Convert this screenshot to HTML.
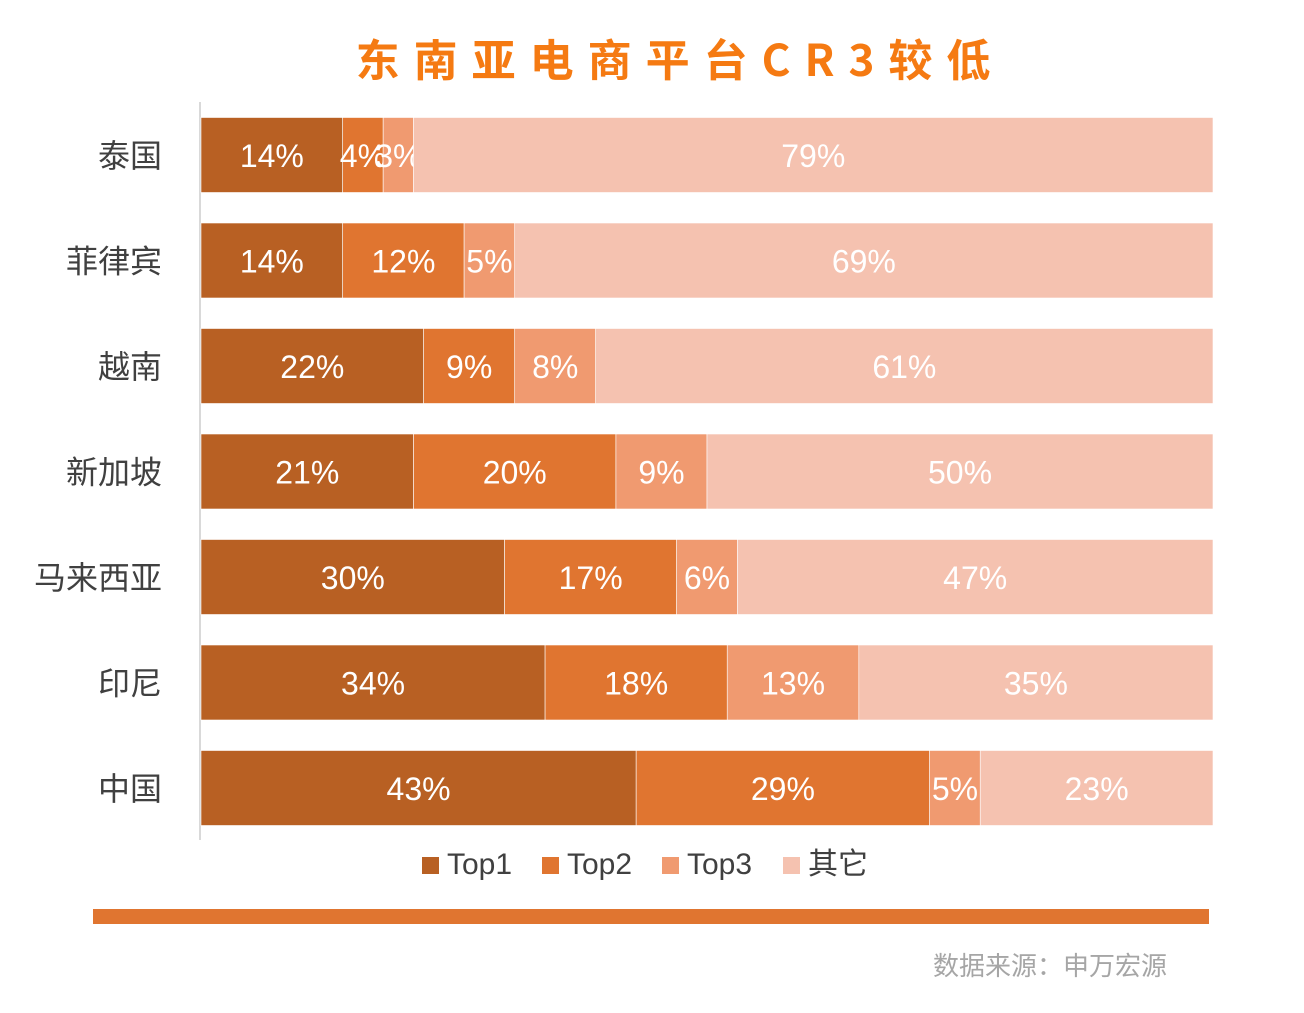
<!DOCTYPE html>
<html><head><meta charset="utf-8"><style>
html,body{margin:0;padding:0;background:#fff;width:1304px;height:1013px;overflow:hidden}
svg text{font-family:"Liberation Sans","Noto Sans CJK SC",sans-serif}
</style></head><body>
<svg id="chart" width="1304" height="1013" xmlns="http://www.w3.org/2000/svg">
<text x="680" y="76" text-anchor="middle" font-size="44" font-weight="bold" fill="#F57A12" letter-spacing="14" style="font-family:'Noto Sans CJK SC',sans-serif">东南亚电商平台CR3较低</text>
<line x1="200" y1="102" x2="200" y2="840" stroke="#D9D9D9" stroke-width="2"/>
<g id="bars"></g>
<g id="legend"></g>
<rect x="93" y="909" width="1116" height="15" fill="#E07530"/>
<text x="1167" y="975" text-anchor="end" font-size="26" fill="#A6A6A6">数据来源：申万宏源</text>
</svg>
<script>
const categories = ["泰国","菲律宾","越南","新加坡","马来西亚","印尼","中国"];
const top1 = [14,14,22,21,30,34,43];
const top2 = [4,12,9,20,17,18,29];
const top3 = [3,5,8,9,6,13,5];
const others = [79,69,61,50,47,35,23];
const seriesNames = ["Top1","Top2","Top3","其它"];
const colors = ["#B86023","#E07530","#F09A70","#F5C2B0"];
const series = [top1,top2,top3,others];
const NS="http://www.w3.org/2000/svg";
const x0=201, plotW=1012;
const xScale=v=>x0+v/100*plotW;
const yCenter=i=>155+i*105.5;
const barH=75;
const g=document.getElementById('bars');
categories.forEach((c,i)=>{
  const t=document.createElementNS(NS,'text');
  
  
  t.setAttribute('x',162);t.setAttribute('y',yCenter(i)+12);
  t.setAttribute('text-anchor','end');t.setAttribute('font-size','32');t.setAttribute('fill','#404040');
  t.textContent=c;g.appendChild(t);
  let cum=0;
  series.forEach((s,k)=>{
    const v=s[i];
    const r=document.createElementNS(NS,'rect');
    
    
    r.setAttribute('x',xScale(cum));r.setAttribute('y',yCenter(i)-barH/2);
    r.setAttribute('width',xScale(cum+v)-xScale(cum));r.setAttribute('height',barH);
    r.setAttribute('fill',colors[k]);r.setAttribute('stroke','#fff');r.setAttribute('stroke-width','0.6');
    g.appendChild(r);
    const l=document.createElementNS(NS,'text');
    
    
    l.setAttribute('x',(xScale(cum)+xScale(cum+v))/2);l.setAttribute('y',yCenter(i)+12);
    l.setAttribute('text-anchor','middle');l.setAttribute('font-size','32');l.setAttribute('fill','#fff');
    l.textContent=v+'%';g.appendChild(l);
    cum+=v;
  });
});
const lg=document.getElementById('legend');
const lx=[422,542,662,783];
seriesNames.forEach((n,k)=>{
  const r=document.createElementNS(NS,'rect');
  
  
  r.setAttribute('x',lx[k]);r.setAttribute('y',857);r.setAttribute('width',17);r.setAttribute('height',17);
  r.setAttribute('fill',colors[k]);lg.appendChild(r);
  const t=document.createElementNS(NS,'text');
  
  
  t.setAttribute('x',lx[k]+25);t.setAttribute('y',874);t.setAttribute('font-size','30');t.setAttribute('fill','#404040');
  t.textContent=n;lg.appendChild(t);
});
</script>
</body></html>
